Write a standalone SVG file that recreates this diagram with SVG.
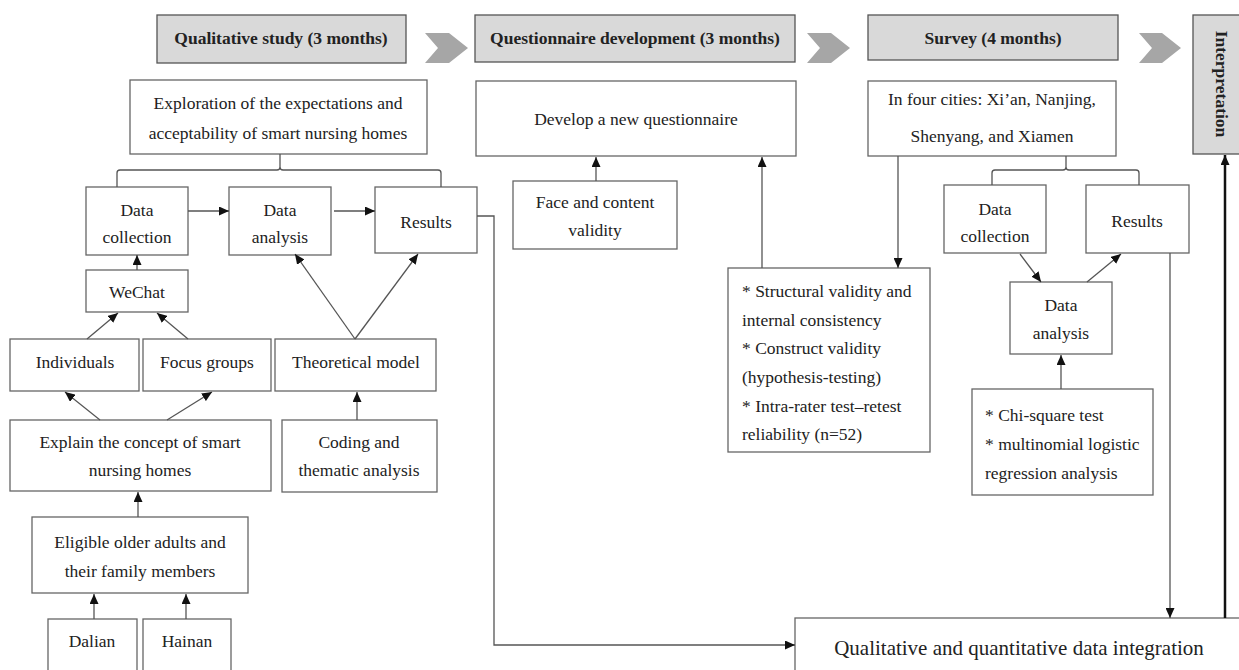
<svg xmlns="http://www.w3.org/2000/svg" width="1239" height="670" viewBox="0 0 1239 670">
<defs>
<style>
.hdr{fill:#d9d9d9;stroke:#555;stroke-width:1.3}
.box{fill:#fff;stroke:#666;stroke-width:1.3}
.chev{fill:#a6a6a6;stroke:none}
text{font-family:"Liberation Serif","Times New Roman",serif;font-size:17.5px;fill:#222}
.b{font-weight:bold}
.c{text-anchor:middle}
.ln{fill:none;stroke:#555;stroke-width:1.3}
.thick{fill:none;stroke:#111;stroke-width:2.5}
</style>
<marker id="ah" markerUnits="userSpaceOnUse" markerWidth="10" markerHeight="9" refX="10" refY="4.5" orient="auto">
<path d="M0,0 L10,4.5 L0,9 z" fill="#111"/>
</marker>
</defs>
<rect width="1239" height="670" fill="#fff"/>

<!-- headers -->
<g id="hdr-qual"><rect class="hdr" x="157" y="15" width="249" height="48"/><text class="b c" x="281" y="44">Qualitative study (3 months)</text></g>
<g id="hdr-quest"><rect class="hdr" x="475" y="15" width="320" height="47"/><text class="b c" x="635" y="44">Questionnaire development (3 months)</text></g>
<g id="hdr-survey"><rect class="hdr" x="868" y="15" width="250" height="45"/><text class="b c" x="993" y="44">Survey (4 months)</text></g>
<g id="hdr-interp"><rect class="hdr" x="1193" y="15" width="48" height="139"/><text class="b c" transform="translate(1222,84) rotate(90)" x="0" y="6">Interpretation</text></g>
<g id="chevrons">
<polygon class="chev" points="425,33 449,33 468,48 449,63 425,63 438,48"/>
<polygon class="chev" points="807,33 831,33 850,48 831,63 807,63 820,48"/>
<polygon class="chev" points="1139,33 1162,33 1181,48 1162,63 1139,63 1152,48"/>
</g>

<!-- qualitative column -->
<g id="n-explore"><rect class="box" x="130" y="80" width="297" height="74"/><text class="c" x="278" y="109">Exploration of the expectations and</text><text class="c" x="278" y="139">acceptability of smart nursing homes</text></g>
<g id="n-dc1"><rect class="box" x="86" y="187" width="102" height="68"/><text class="c" x="137" y="216">Data</text><text class="c" x="137" y="243">collection</text></g>
<g id="n-da1"><rect class="box" x="229" y="187" width="102" height="68"/><text class="c" x="280" y="216">Data</text><text class="c" x="280" y="243">analysis</text></g>
<g id="n-res1"><rect class="box" x="375" y="187" width="102" height="66"/><text class="c" x="426" y="228">Results</text></g>
<g id="n-wechat"><rect class="box" x="86" y="270" width="102" height="42"/><text class="c" x="137" y="298">WeChat</text></g>
<g id="n-indiv"><rect class="box" x="10" y="339" width="129" height="52"/><text class="c" x="75" y="368">Individuals</text></g>
<g id="n-focus"><rect class="box" x="143" y="339" width="128" height="52"/><text class="c" x="207" y="368">Focus groups</text></g>
<g id="n-theory"><rect class="box" x="275" y="339" width="161" height="52"/><text class="c" x="356" y="368">Theoretical model</text></g>
<g id="n-explain"><rect class="box" x="10" y="420" width="261" height="71"/><text class="c" x="140" y="448">Explain the concept of smart</text><text class="c" x="140" y="476">nursing homes</text></g>
<g id="n-coding"><rect class="box" x="282" y="420" width="155" height="72"/><text class="c" x="359" y="448">Coding and</text><text class="c" x="359" y="476">thematic analysis</text></g>
<g id="n-eligible"><rect class="box" x="32" y="517" width="216" height="76"/><text class="c" x="140" y="548">Eligible older adults and</text><text class="c" x="140" y="577">their family members</text></g>
<g id="n-dalian"><rect class="box" x="48" y="619" width="89" height="60"/><text class="c" x="92" y="647">Dalian</text></g>
<g id="n-hainan"><rect class="box" x="143" y="619" width="88" height="60"/><text class="c" x="187" y="647">Hainan</text></g>

<!-- questionnaire column -->
<g id="n-develop"><rect class="box" x="476" y="81" width="320" height="75"/><text class="c" x="636" y="125">Develop a new questionnaire</text></g>
<g id="n-face"><rect class="box" x="513" y="181" width="164" height="68"/><text class="c" x="595" y="208">Face and content</text><text class="c" x="595" y="236">validity</text></g>
<g id="n-struct"><rect class="box" x="728" y="268" width="202" height="184"/>
<text x="742" y="297">* Structural validity and</text>
<text x="742" y="326">internal consistency</text>
<text x="742" y="354">* Construct validity</text>
<text x="742" y="383">(hypothesis-testing)</text>
<text x="742" y="412">* Intra-rater test–retest</text>
<text x="742" y="440">reliability (n=52)</text></g>

<!-- survey column -->
<g id="n-cities"><rect class="box" x="868" y="81" width="248" height="75"/><text class="c" x="992" y="105">In four cities: Xi’an, Nanjing,</text><text class="c" x="992" y="142">Shenyang, and Xiamen</text></g>
<g id="n-dc2"><rect class="box" x="944" y="185" width="102" height="68"/><text class="c" x="995" y="215">Data</text><text class="c" x="995" y="242">collection</text></g>
<g id="n-res2"><rect class="box" x="1086" y="185" width="103" height="68"/><text class="c" x="1137" y="227">Results</text></g>
<g id="n-da2"><rect class="box" x="1010" y="282" width="102" height="72"/><text class="c" x="1061" y="311">Data</text><text class="c" x="1061" y="339">analysis</text></g>
<g id="n-chi"><rect class="box" x="972" y="389" width="181" height="106"/>
<text x="985" y="421">* Chi-square test</text>
<text x="985" y="450">* multinomial logistic</text>
<text x="985" y="479">regression analysis</text></g>

<g id="n-integration"><rect class="box" x="795" y="618" width="460" height="70"/><text class="c" x="1019" y="655" style="font-size:21px">Qualitative and quantitative data integration</text></g>

<!-- connectors -->
<g id="connectors">
<path class="ln" d="M117,187 V173 Q117,170 120,170 H277 Q280,170 280,167 V154 M280,167 Q280,170 283,170 H438 Q441,170 441,173 V187"/>
<path class="ln" d="M992,185 V173 Q992,170 995,170 H1063 Q1066,170 1066,167 V156 M1066,167 Q1066,170 1069,170 H1136 Q1139,170 1139,173 V185"/>
<line class="ln" x1="188" y1="211" x2="229" y2="211" marker-end="url(#ah)"/>
<line class="ln" x1="334" y1="211" x2="375" y2="211" marker-end="url(#ah)"/>
<line class="ln" x1="137" y1="270" x2="137" y2="255" marker-end="url(#ah)"/>
<line class="ln" x1="87" y1="339" x2="118" y2="313" marker-end="url(#ah)"/>
<line class="ln" x1="188" y1="339" x2="157" y2="313" marker-end="url(#ah)"/>
<line class="ln" x1="355" y1="339" x2="295" y2="254" marker-end="url(#ah)"/>
<line class="ln" x1="355" y1="339" x2="418" y2="254" marker-end="url(#ah)"/>
<line class="ln" x1="100" y1="420" x2="65" y2="392" marker-end="url(#ah)"/>
<line class="ln" x1="167" y1="420" x2="212" y2="392" marker-end="url(#ah)"/>
<line class="ln" x1="357" y1="420" x2="357" y2="392" marker-end="url(#ah)"/>
<line class="ln" x1="138" y1="517" x2="138" y2="492" marker-end="url(#ah)"/>
<line class="ln" x1="94" y1="619" x2="94" y2="594" marker-end="url(#ah)"/>
<line class="ln" x1="186" y1="619" x2="186" y2="594" marker-end="url(#ah)"/>
<path class="ln" d="M477,216 H494 V645 H795" marker-end="url(#ah)"/>
<line class="ln" x1="596" y1="181" x2="596" y2="157" marker-end="url(#ah)"/>
<line class="ln" x1="762" y1="268" x2="762" y2="157" marker-end="url(#ah)"/>
<line class="ln" x1="898" y1="156" x2="898" y2="268" marker-end="url(#ah)"/>
<line class="ln" x1="1020" y1="254" x2="1041" y2="282" marker-end="url(#ah)"/>
<line class="ln" x1="1087" y1="282" x2="1121" y2="254" marker-end="url(#ah)"/>
<line class="ln" x1="1061" y1="389" x2="1061" y2="355" marker-end="url(#ah)"/>
<line class="ln" x1="1170" y1="253" x2="1170" y2="618" marker-end="url(#ah)"/>
<line class="thick" x1="1225" y1="618" x2="1225" y2="155" marker-end="url(#ah)"/>
</g>
</svg>
